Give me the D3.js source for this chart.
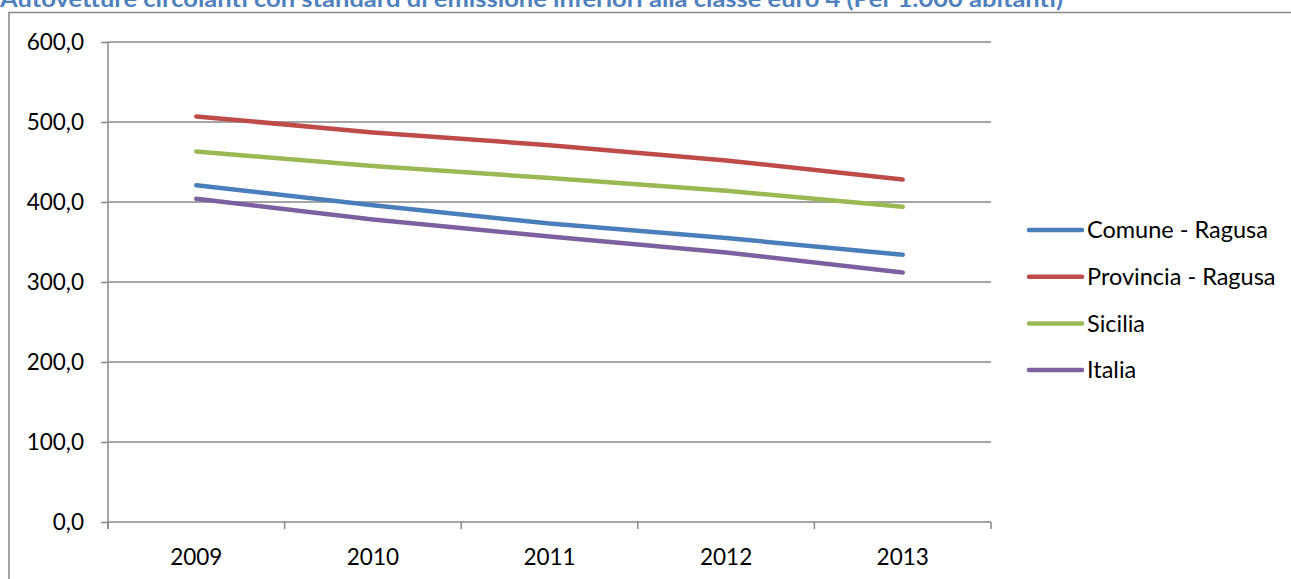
<!DOCTYPE html>
<html>
<head>
<meta charset="utf-8">
<script src="https://cdn.jsdelivr.net/npm/d3@7"></script>
<style>
  html, body { margin: 0; padding: 0; background: #fff; overflow: hidden; }
  svg { display: block; }
</style>
</head>
<body>
<svg id="chart" width="1291" height="579"></svg>
<script>
const title = "Autovetture circolanti con standard di emissione inferiori alla classe euro 4 (Per 1.000 abitanti)";
const years = ["2009", "2010", "2011", "2012", "2013"];
const seriesNames = ["Comune - Ragusa", "Provincia - Ragusa", "Sicilia", "Italia"];
const comuneRagusa = [421, 396, 373, 355, 334];
const provinciaRagusa = [507, 487, 471, 452, 428];
const sicilia = [463, 445, 430, 414, 394];
const italia = [404, 378, 357, 337, 312];
const yTicks = [0, 100, 200, 300, 400, 500, 600];
const colors = ["#4A7EBB", "#BE4B48", "#98B954", "#7D60A0"];

const series = [comuneRagusa, provinciaRagusa, sicilia, italia].map((v, i) => ({ name: seriesNames[i], values: v, color: colors[i] }));

const svg = d3.select("#chart");
const font = "Lato, 'Open Sans', sans-serif";
const grey = "#878787";

// outer border
svg.append("rect").attr("x", 9).attr("y", 12.5).attr("width", 1400).attr("height", 700)
  .attr("fill", "none").attr("stroke", grey).attr("stroke-width", 1.5);

// title (partly above the visible area, as in the reference)
svg.append("text").attr("x", 0).attr("y", 7)
  .attr("font-family", font).attr("font-weight", "bold").attr("font-size", 22)
  .attr("fill", "#4F81BD")
  .attr("textLength", 1063).attr("lengthAdjust", "spacingAndGlyphs")
  .text(title);

const mLeft = 108, mRight = 991, mTop = 42, mBottom = 522;
const x = d3.scaleBand().domain(years).range([mLeft, mRight]);
const y = d3.scaleLinear().domain([0, 600]).range([mBottom, mTop]);

// gridlines
svg.append("g").selectAll("line").data(yTicks.filter(t => t > 0)).join("line")
  .attr("x1", mLeft).attr("x2", mRight)
  .attr("y1", d => y(d)).attr("y2", d => y(d))
  .attr("stroke", grey).attr("stroke-width", 1.5);

// y axis
const yAxis = d3.axisLeft(y).tickValues(yTicks).tickSize(7).tickPadding(17)
  .tickFormat(d => d3.format(".1f")(d).replace(".", ","));
const gy = svg.append("g").attr("transform", `translate(${mLeft},0)`).call(yAxis);
gy.select(".domain").remove();
gy.append("line").attr("x1", 0).attr("x2", 0).attr("y1", mTop).attr("y2", mBottom + 7)
  .attr("stroke", grey).attr("stroke-width", 1.5);
gy.selectAll(".tick line").attr("stroke", grey).attr("stroke-width", 1.5);
gy.selectAll(".tick text").attr("font-family", font).attr("font-size", 22.5).attr("fill", "#000");

// x axis
const gx = svg.append("g").attr("transform", `translate(0,${mBottom})`);
gx.append("line").attr("x1", mLeft).attr("x2", mRight).attr("y1", 0).attr("y2", 0)
  .attr("stroke", grey).attr("stroke-width", 1.5);
const bounds = years.map(d => x(d)).concat([x(years[years.length - 1]) + x.bandwidth()]);
gx.selectAll("line.tk").data(bounds).join("line").attr("class", "tk")
  .attr("x1", d => d).attr("x2", d => d).attr("y1", 0).attr("y2", 7)
  .attr("stroke", grey).attr("stroke-width", 1.5);
gx.selectAll("text").data(years).join("text")
  .attr("x", d => x(d) + x.bandwidth() / 2).attr("y", 43)
  .attr("text-anchor", "middle")
  .attr("font-family", font).attr("font-size", 22.5).attr("fill", "#000")
  .text(d => d);

// lines
const line = d3.line().x((d, i) => x(years[i]) + x.bandwidth() / 2).y(d => y(d));
svg.append("g").selectAll("path").data(series).join("path")
  .attr("d", d => line(d.values))
  .attr("fill", "none").attr("stroke", d => d.color)
  .attr("stroke-width", 4.5).attr("stroke-linecap", "round").attr("stroke-linejoin", "round");

// legend
const lg = svg.append("g").selectAll("g").data(series).join("g")
  .attr("transform", (d, i) => `translate(1029,${230 + i * 46.7})`);
lg.append("line").attr("x1", 0).attr("x2", 53).attr("y1", 0).attr("y2", 0)
  .attr("stroke", d => d.color).attr("stroke-width", 4.5).attr("stroke-linecap", "round");
lg.append("text").attr("x", 58).attr("y", 0).attr("dy", "0.35em")
  .attr("font-family", font).attr("font-size", 23.5).attr("fill", "#000")
  .text(d => d.name);
</script>
</body>
</html>
